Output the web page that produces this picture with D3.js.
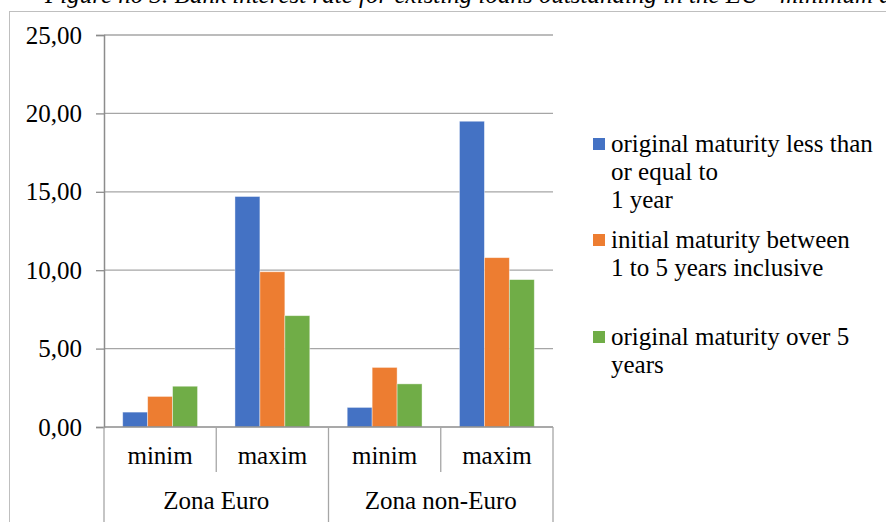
<!DOCTYPE html>
<html>
<head>
<meta charset="utf-8">
<script src="https://cdn.jsdelivr.net/npm/d3@7"></script>
<style>
  html, body { margin: 0; padding: 0; background: #fff; }
  svg { display: block; font-family: "Liberation Serif", "Times New Roman", serif; }
</style>
</head>
<body>
<svg id="chart" width="886" height="522"></svg>
<script>
// ---- data ----
const titleText = "Figure no 3. Bank interest rate for existing loans outstanding in the EU - minimum and maximum values";
const groups = ["Zona Euro", "Zona non-Euro"];
const subcats = ["minim", "maxim"];
const seriesNames = [
  "original maturity less than or equal to 1 year",
  "initial maturity between 1 to 5 years inclusive",
  "original maturity over 5 years"
];
const legendLines = [
  ["original maturity less than", "or equal to", "1 year"],
  ["initial maturity between", "1 to 5 years inclusive"],
  ["original maturity over 5", "years"]
];
const seriesLess1 = [0.95, 14.7, 1.25, 19.5];
const series1to5 = [1.95, 9.9, 3.8, 10.8];
const seriesOver5 = [2.6, 7.1, 2.75, 9.4];
const yTicks = [0, 5, 10, 15, 20, 25];
const colors = ["#4472C4", "#ED7D31", "#70AD47"];

// ---- build ----
(function () {
const allSeries = [seriesLess1, series1to5, seriesOver5];
const cats = [];
groups.forEach(g => subcats.forEach(s => cats.push(g + "|" + s)));

const svg = d3.select("#chart");
const pLeft = 104, pRight = 553, pTop = 35, pBottom = 427;
const FS = 25;

const x0 = d3.scaleBand().domain(cats).range([pLeft, pRight]).paddingInner(0).paddingOuter(0);
const bw = x0.bandwidth();
const gapHalf = bw * 0.75 / 4.5;
const x1 = d3.scaleBand().domain(d3.range(3)).range([gapHalf, bw - gapHalf]).padding(0);
const y = d3.scaleLinear().domain([0, 25]).range([pBottom, pTop]);
const fmt = v => d3.format(".2f")(v).replace(".", ",");

// title (cropped at top, as in the source)
svg.append("text")
  .attr("x", 45).attr("y", 3)
  .attr("font-size", FS).attr("font-style", "italic")
  .attr("fill", "#000")
  .text(titleText);

// outer frame
svg.append("rect")
  .attr("x", 9.5).attr("y", 11.5).attr("width", 1000).attr("height", 1000)
  .attr("fill", "none").attr("stroke", "#bfbfbf").attr("stroke-width", 1);

// gridlines
svg.append("g").selectAll("line").data(yTicks.filter(t => t > 0)).join("line")
  .attr("x1", pLeft).attr("x2", pRight)
  .attr("y1", d => y(d)).attr("y2", d => y(d))
  .attr("stroke", "#a6a6a6").attr("stroke-width", 1.3);

// y axis
const yAxis = svg.append("g").attr("transform", `translate(${pLeft},0)`)
  .call(d3.axisLeft(y).tickValues(yTicks).tickSize(8).tickPadding(14).tickFormat(fmt));
yAxis.select(".domain").attr("stroke", "#8c8c8c").attr("stroke-width", 1.5);
yAxis.selectAll(".tick line").attr("stroke", "#8c8c8c").attr("stroke-width", 1.3);
yAxis.selectAll(".tick text")
  .attr("font-family", "Liberation Serif, Times New Roman, serif")
  .attr("font-size", FS).attr("fill", "#000");

// bars
allSeries.forEach((vals, si) => {
  svg.append("g").selectAll("rect").data(vals).join("rect")
    .attr("x", (d, i) => x0(cats[i]) + x1(si))
    .attr("width", x1.bandwidth())
    .attr("y", d => y(d))
    .attr("height", d => y(0) - y(d))
    .attr("fill", colors[si])
    .attr("stroke", "#ffffff").attr("stroke-opacity", 0.5).attr("stroke-width", 0.8);
});

// category axis line
svg.append("line")
  .attr("x1", pLeft).attr("x2", pRight).attr("y1", pBottom).attr("y2", pBottom)
  .attr("stroke", "#8c8c8c").attr("stroke-width", 1.5);

// level-1 separators (between minim & maxim)
groups.forEach(g => {
  const xs = x0(g + "|" + subcats[1]);
  svg.append("line")
    .attr("x1", xs).attr("x2", xs).attr("y1", pBottom).attr("y2", 472)
    .attr("stroke", "#a6a6a6").attr("stroke-width", 1.3);
});
// level-2 separators
const groupEdges = [x0(cats[0])].concat(groups.map(g => x0(g + "|" + subcats[1]) + bw));
groupEdges.forEach(xe => {
  svg.append("line")
    .attr("x1", xe).attr("x2", xe).attr("y1", pBottom).attr("y2", 530)
    .attr("stroke", "#a6a6a6").attr("stroke-width", 1.3);
});

// sub-category labels
svg.append("g").selectAll("text").data(cats).join("text")
  .attr("x", d => x0(d) + bw / 2).attr("y", 464)
  .attr("text-anchor", "middle").attr("font-size", FS).attr("fill", "#000")
  .text(d => d.split("|")[1]);

// group labels
svg.append("g").selectAll("text").data(groups).join("text")
  .attr("x", g => (x0(g + "|" + subcats[0]) + x0(g + "|" + subcats[1]) + bw) / 2)
  .attr("y", 509)
  .attr("text-anchor", "middle").attr("font-size", FS).attr("fill", "#000")
  .text(g => g);

// legend
const legendBase = [152, 248, 345];
const lineH = 28;
legendLines.forEach((lines, i) => {
  const g = svg.append("g");
  g.append("rect")
    .attr("x", 593).attr("y", legendBase[i] - 14).attr("width", 12).attr("height", 12)
    .attr("fill", colors[i]);
  g.append("text")
    .attr("font-size", FS).attr("fill", "#000")
    .selectAll("tspan").data(lines).join("tspan")
    .attr("x", 611).attr("y", (d, k) => legendBase[i] + k * lineH)
    .text(d => d);
  g.append("title").text(seriesNames[i]);
});
})();
</script>
</body>
</html>
